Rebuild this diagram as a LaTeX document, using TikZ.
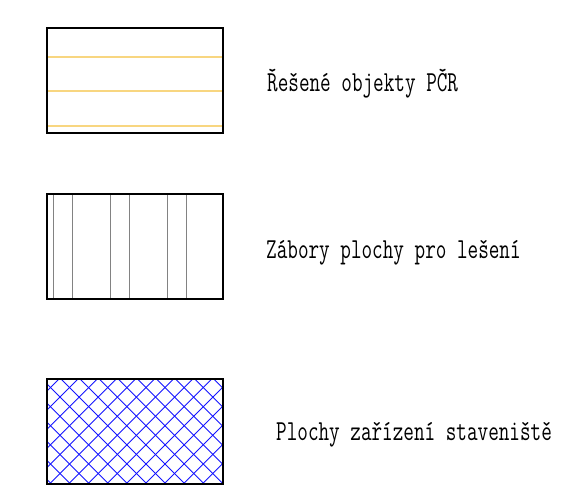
\documentclass[tikz,border=0pt]{standalone}
\usepackage{graphicx}
\definecolor{hatchyellow}{RGB}{248,214,128}
\definecolor{hatchgray}{RGB}{130,130,130}
\definecolor{hatchblue}{RGB}{20,20,255}
\tikzset{
  legendbox/.style={draw=black, line width=2pt, minimum width=176pt, minimum height=105pt, inner sep=0pt, anchor=north west},
  legendtext/.style={anchor=base west, inner sep=0pt, font=\ttfamily\fontsize{29}{33}\selectfont},
  yline/.style={draw=hatchyellow, line width=1.4pt},
  gline/.style={draw=hatchgray, line width=1pt},
  bline/.style={draw=hatchblue, line width=0.9pt}
}
\newcommand{\narrowtxt}[1]{\scalebox{0.71}[1]{#1}}
\begin{document}
\begin{tikzpicture}[x=1pt,y=-1pt]
\useasboundingbox (0,0) rectangle (562,493);
% box 1
\coordinate (b1) at (46,27);
\foreach \yy in {57,91,126} {\draw[yline] (46,\yy) -- (222,\yy);}
\node[legendbox] (box1) at (b1) {};
\node[legendtext] (t1) at (267,91) {\narrowtxt{Řešené objekty PČR}};
% box 2
\coordinate (b2) at (46,193);
\foreach \xx in {53,72,110.3,129.3,167.3,186} {\draw[gline] (\xx,193) -- (\xx,298);}
\node[legendbox] (box2) at (b2) {};
\node[legendtext] (t2) at (266,258) {\narrowtxt{Zábory plochy pro lešení}};
% box 3
\coordinate (b3) at (46,378);
\begin{scope}
\clip (46,378) rectangle (222,484);
\foreach \k in {-8,...,10} {
  \pgfmathsetmacro{\c}{-318+19.1*\k}
  \draw[bline] (\c+378,378) -- (\c+484,484);
}
\foreach \k in {-2,...,15} {
  \pgfmathsetmacro{\d}{438+19.1*\k}
  \draw[bline] (\d-378,378) -- (\d-484,484);
}
\end{scope}
\node[legendbox] (box3) at (b3) {};
\node[legendtext] (t3) at (276,440) {\narrowtxt{Plochy zařízení staveniště}};
\end{tikzpicture}
\end{document}
